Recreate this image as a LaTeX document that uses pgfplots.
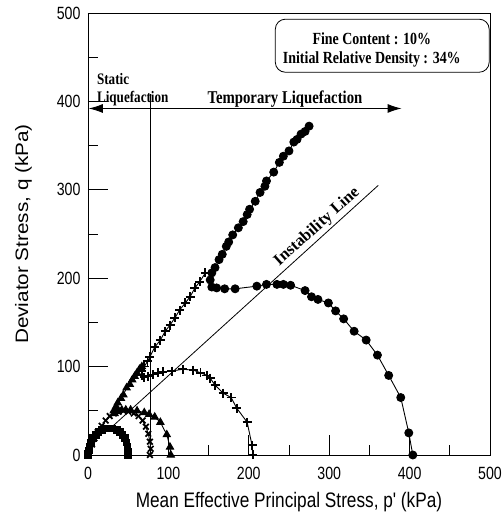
\documentclass[border=0pt]{standalone}
\usepackage{fontspec}
\usepackage{pgfplots}
\pgfplotsset{compat=1.18}
\usetikzlibrary{arrows.meta}
\setmainfont{Liberation Serif}
\newfontfamily\tickfont{Liberation Sans}[FakeStretch=0.8]
\newfontfamily\labfont{Liberation Sans}[FakeStretch=0.82]
\newfontfamily\ylabfont{Liberation Sans}[FakeStretch=1.15]
\newfontfamily\annfont{Liberation Serif}[FakeStretch=0.82]
\newfontfamily\instfont{Liberation Serif}

\begin{document}
\begin{tikzpicture}
\begin{axis}[
  scale only axis, width=402pt, height=442pt,
  xmin=0, xmax=500, ymin=0, ymax=500,
  xtick={0,100,...,500}, ytick={0,100,...,500},
  minor xtick={50,150,...,450}, minor ytick={50,150,...,450},
  tick align=inside, xtick pos=bottom, ytick pos=left,
  major tick length=20pt, minor tick length=10pt,
  tick style={black, line width=0.8pt},
  axis line style={line width=0.9pt},
  /pgf/number format/assume math mode=true,
  ticklabel style={font=\tickfont\fontsize{17.7}{18}\selectfont},
  xticklabel style={yshift=-9pt},
  yticklabel style={xshift=-4pt},
  xlabel={Mean Effective Principal Stress, p' (kPa)},
  ylabel={Deviator Stress, q (kPa)},
  xlabel style={font=\labfont\fontsize{21}{22}\selectfont},
  ylabel style={font=\ylabfont\fontsize{18}{19}\selectfont},
  xlabel shift=5pt, ylabel shift=18pt,
  clip=false,
]
% p0 = 50 kPa
\addplot[black, line width=0.9pt, mark=square*, mark size=3.3pt, mark options={solid, fill=black}] coordinates {
(50,0)(50,4)(49,9)(48,14)(46,19)(43,23)(40,26)(36,28)(30,30)(25,30)(21,30)
(17,28)(13,26)(10,23)(6,19)(4,14)(2,9)(1,5)(0,1)(0,0)};
% p0 = 77 kPa
\addplot[black, line width=0.9pt, mark=x, mark size=4pt, mark options={solid, line width=1.7pt}] coordinates {
(77,0)(78,7)(77,15)(75,24)(72,32)(68,39)(63,44)(57,47)(50,49)(44,50)(38,49)
(32,47)(27,44)(22,39)(17,33)(12,26)(8,19)(5,12)(2,6)(0,1)};
% p0 = 103 kPa
\addplot[black, line width=0.9pt, mark=triangle*, mark size=4.2pt, mark options={solid, fill=black}] coordinates {
(103,0)(102,9)(98,23)(90,37)(83,43)(76,46)(70,48)(61,50)(53,51)(47,51)(42,51)
(37,49)(33,47)(32,50)(35,55)(37,59)(41,64)(44,68)(48,76)(52,80)(55,85)(58,89)
(61,93)(64,97)(67,100)};
% p0 = 205 kPa
\addplot[black, line width=0.9pt, mark=+, mark size=4.5pt, mark options={solid, line width=1.8pt}] coordinates {
(205,0)(204,11)(198,37)(185,53)(178,65)(168,70)(158,79)(152,87)(148,90)(140,93)
(131,96)(118,97)(104,95)(93,94)(87,93)(81,91)(75,89)(70,88)(67,90)(67,95)(70,100)
(74,106)(77,111)(83,122)(90,130)(96,140)(102,147)(108,155)(114,164)(121,172)
(127,179)(133,189)(139,196)(146,206)};
% p0 = 404 kPa
\addplot[black, line width=0.9pt, mark=*, mark size=4pt, mark options={solid, fill=black}] coordinates {
(404,0)(399,25)(389,65)(374,90)(360,113)(346,130)(331,140)(318,154)(308,163)
(299,172)(286,176)(278,179)(270,186)(252,192)(243,193)(235,193)(222,193)(210,191)
(183,188)(170,188)(160,189)(154,190)(152,198)(154,206)(158,212)(163,221)(167,227)
(172,236)(175,241)(180,249)(187,257)(193,264)(198,272)(201,278)(208,287)(214,297)
(220,304)(222,310)(231,320)(238,331)(243,338)(250,344)(256,354)(260,357)(265,363)
(270,366)(275,372)};

\draw[line width=0.8pt] (axis cs:77,0) -- (axis cs:77,408);
\draw[line width=0.9pt, {Latex[length=14pt,width=9pt]}-{Latex[length=14pt,width=9pt]}]
  (axis cs:1,392) -- (axis cs:390,392);
\draw[line width=0.8pt] (axis cs:30,32) -- (axis cs:361,305);
\node[font=\instfont\bfseries\fontsize{16.5}{17}\selectfont, rotate=42] at (axis cs:285,258) {Instability Line};
\draw[line width=0.8pt, rounded corners=10pt] (axis cs:233,433) rectangle (axis cs:499,493);
\node[anchor=base, font=\annfont\bfseries\fontsize{17}{18}\selectfont] at (axis cs:353,464) {Fine Content : 10\%};
\node[anchor=base, font=\annfont\bfseries\fontsize{17}{18}\selectfont] at (axis cs:353,443) {Initial Relative Density : 34\%};
\node[anchor=base west, inner sep=0pt, font=\annfont\bfseries\fontsize{16}{17}\selectfont] at (axis cs:11,419) {Static};
\node[anchor=base west, inner sep=0pt, font=\annfont\bfseries\fontsize{16}{17}\selectfont] at (axis cs:11,399) {Liquefaction};
\node[anchor=base, font=\annfont\bfseries\fontsize{18}{19}\selectfont] at (axis cs:245,398) {Temporary Liquefaction};
\coordinate (ll) at (rel axis cs:0,0);
\coordinate (ur) at (rel axis cs:1,1);
\end{axis}
\pgfresetboundingbox
\path[use as bounding box] ([shift={(-88pt,-61pt)}]ll) rectangle ([shift={(12pt,13pt)}]ur);
\end{tikzpicture}
\end{document}
